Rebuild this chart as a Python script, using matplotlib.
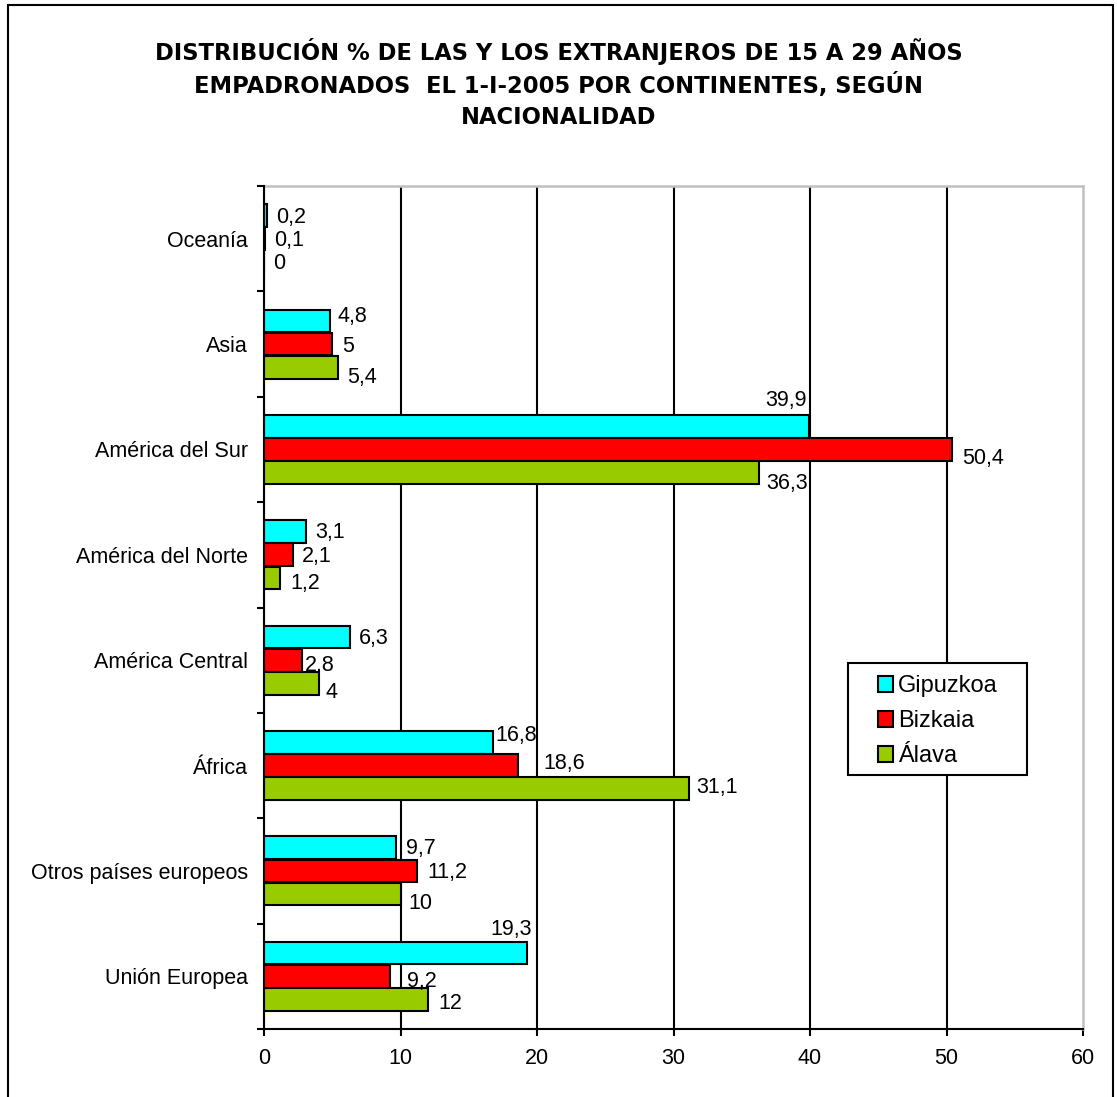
import matplotlib
matplotlib.use('Agg')
import matplotlib.pyplot as plt
import numpy as np
from matplotlib.patches import Rectangle

plt.rcParams['font.family'] = ['Liberation Sans', 'DejaVu Sans']

## --- Data --- ##

categories = ['Unión Europea', 'Otros países europeos', 'África', 'América Central',
              'América del Norte', 'América del Sur', 'Asia', 'Oceanía']
gipuzkoa = [19.3, 9.7, 16.8, 6.3, 3.1, 39.9, 4.8, 0.2]
bizkaia = [9.2, 11.2, 18.6, 2.8, 2.1, 50.4, 5.0, 0.1]
alava = [12.0, 10.0, 31.1, 4.0, 1.2, 36.3, 5.4, 0.0]
series_names = ['Gipuzkoa', 'Bizkaia', 'Álava']
x_ticks = [0, 10, 20, 30, 40, 50, 60]

title = ('DISTRIBUCIÓN % DE LAS Y LOS EXTRANJEROS DE 15 A 29 AÑOS\n'
         'EMPADRONADOS  EL 1-I-2005 POR CONTINENTES, SEGÚN\n'
         'NACIONALIDAD')

colors = ['#00FFFF', '#FF0000', '#99CC00']

# Excel-ish label placement tweaks, in pixels: (category, series) -> (dx, dy, ha)
label_nudge = {
    (7, 0): (9, 1, 'left'), (7, 1): (9, 1, 'left'), (7, 2): (9, 1, 'left'),
    (6, 0): (8, -5, 'left'), (6, 1): (10, 1, 'left'), (6, 2): (9, 9, 'left'),
    (5, 0): (-2, -27, 'right'), (5, 1): (10, 8, 'left'), (5, 2): (7, 10, 'left'),
    (4, 0): (9, 0, 'left'), (4, 1): (9, 1, 'left'), (4, 2): (10, 5, 'left'),
    (3, 0): (9, 0, 'left'), (3, 1): (3, 4, 'left'), (3, 2): (7, 8, 'left'),
    (2, 0): (2, -8, 'left'), (2, 1): (25, -3, 'left'), (2, 2): (8, -2, 'left'),
    (1, 0): (10, 0, 'left'), (1, 1): (10, 1, 'left'), (1, 2): (8, 8, 'left'),
    (0, 0): (4, -25, 'right'), (0, 1): (17, 4, 'left'), (0, 2): (11, 3, 'left'),
}

## --- Plot --- ##

W, H, DPI = 1117, 1097, 100
fig = plt.figure(figsize=(W / DPI, H / DPI), dpi=DPI)
ax = fig.add_axes([264 / W, 1 - 1029 / H, (1083 - 264) / W, (1029 - 186) / H])

px = 72 / DPI  # pixels -> points
y = np.arange(len(categories))
bar_h = 0.215
step = 0.22
offsets = [step, 0, -step]

for s, (vals, name, col) in enumerate(zip([gipuzkoa, bizkaia, alava], series_names, colors)):
    bars = ax.barh(y + offsets[s], vals, height=bar_h, color=col, edgecolor='black',
                   linewidth=1.5, label=name, zorder=3)
    for i, (bar, v) in enumerate(zip(bars, vals)):
        dx, dy, ha = label_nudge.get((i, s), (9, 0, 'left'))
        txt = f'{v:g}'.replace('.', ',')
        ax.annotate(txt, (bar.get_width(), bar.get_y() + bar.get_height() / 2),
                    xytext=(dx * px, -(dy + 1) * px), textcoords='offset points',
                    ha=ha, va='center', fontsize=15.5, zorder=4)

ax.set_xlim(0, 60)
ax.set_ylim(-0.5, len(categories) - 0.5)
ax.set_xticks(x_ticks)
ax.set_xticklabels([str(t) for t in x_ticks], fontsize=15.5)
ax.set_yticks(y)
ax.set_yticklabels(categories, fontsize=15.5)
ax.set_yticks(np.arange(-0.5, len(categories)), minor=True)
ax.tick_params(axis='y', which='major', length=0, pad=16 * px)
ax.tick_params(axis='y', which='minor', length=7 * px, width=1.5, direction='out')
ax.tick_params(axis='x', which='major', length=7 * px, width=1.5, direction='out', pad=12 * px)

ax.grid(axis='x', color='black', linewidth=1.5, zorder=1)
ax.set_axisbelow(True)
ax.get_xgridlines()[-1].set_visible(False)

for side in ['left', 'bottom']:
    ax.spines[side].set_color('black')
    ax.spines[side].set_linewidth(1.5)
for side in ['top', 'right']:
    ax.spines[side].set_color('#C0C0C0')
    ax.spines[side].set_linewidth(1.8)
ax.spines['left'].set_zorder(5)
ax.spines['bottom'].set_zorder(5)

# Title
fig.text(0.5, 1 - 38 / H, title, ha='center', va='top', fontsize=16.3,
         fontweight='bold', family='DejaVu Sans', linespacing=1.42)

# Legend box drawn separately (Excel leaves extra room on the right)
ax.add_patch(Rectangle((848 / W, 1 - 775 / H), (1027 - 848) / W, (775 - 663) / H,
                       transform=fig.transFigure, facecolor='white', clip_on=False,
                       edgecolor='black', linewidth=1.5, zorder=5.5))
leg = ax.legend(loc='upper left', bbox_to_anchor=(865 / W, 1 - 662 / H),
                bbox_transform=fig.transFigure, borderaxespad=0, fontsize=17,
                frameon=False, handlelength=0.65, handleheight=0.65,
                handletextpad=0.2, labelspacing=0.55, borderpad=0.55)
leg.set_zorder(6)

# Outer chart border
fig.patches.append(Rectangle((8 / W, -0.01), (1113 - 8) / W, 1.01 - 5 / H,
                             transform=fig.transFigure, fill=False,
                             edgecolor='black', linewidth=1.5))

fig.savefig('out.png', dpi=DPI)
